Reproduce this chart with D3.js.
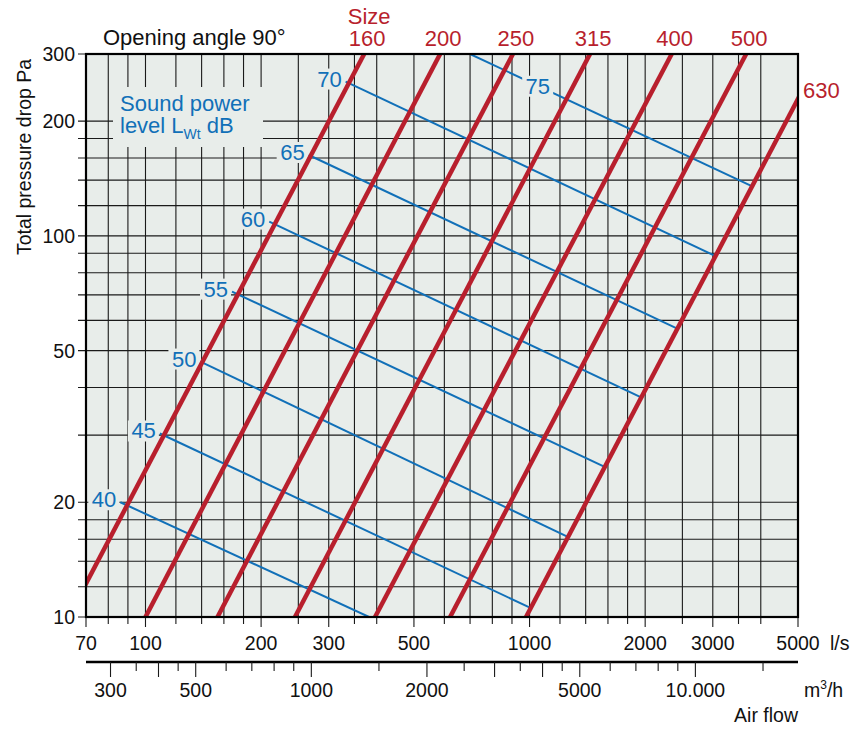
<!DOCTYPE html>
<html>
<head>
<meta charset="utf-8">
<script src="https://cdn.jsdelivr.net/npm/d3@7"></script>
<style>
  body { margin: 0; background: #fff; }
  svg { display: block; font-family: "Liberation Sans", Arial, Helvetica, sans-serif; }
</style>
</head>
<body>
<svg id="canvas" width="854" height="729"></svg>
<script>
// Damper sizes: air flow (l/s) at 10 Pa and at 300 Pa
const sizes = ["160", "200", "250", "315", "400", "500", "630"];
const flowAt10Pa = [63, 100, 154, 245, 396, 621, 979];
const flowAt300Pa = [371, 585, 905, 1437, 2345, 3664, 5760];

// Sound power level lines: start point and end point (flow l/s, pressure Pa)
const soundLevels = [40, 45, 50, 55, 60, 65, 70, 75];
const soundStartFlow = [86, 109, 139, 168, 210, 266, 332, 700];
const soundStartDp = [20, 30.3, 46.8, 71.4, 109, 163, 254, 300];
const soundEndFlow = [382, 999, 1262, 1564, 1940, 2417, 3042, 3790];
const soundEndDp = [10, 10.6, 16.2, 24.8, 37.8, 57.2, 88.6, 135];

// Axis ticks
const yGrid = [10, 12, 14, 16, 18, 20, 30, 40, 50, 60, 70, 80, 90, 100, 120, 140, 160, 180, 200, 300];
const yLabels = [10, 20, 50, 100, 200, 300];
const xGrid = [70, 80, 90, 100, 120, 140, 160, 180, 200, 250, 300, 350, 400, 500, 600, 700, 800, 900,
  1000, 1200, 1400, 1600, 1800, 2000, 2500, 3000, 3500, 4000, 5000];
const xLabels = [70, 100, 200, 300, 500, 1000, 2000, 3000, 5000];
const m3hTicks = [300, 350, 400, 450, 500, 600, 700, 800, 900, 1000, 1500, 2000, 2500, 3000, 3500,
  4000, 4500, 5000, 6000, 7000, 8000, 9000, 10000, 15000];
const m3hLong = [300, 400, 500, 1000, 2000, 3000, 4000, 5000, 10000];
const m3hLabels = [300, 500, 1000, 2000, 5000, 10000];

const red = "#b81f2d";
const blue = "#1170b8";
const panel = "#e8edea";

const svg = d3.select("#canvas");
const pLeft = 86, pRight = 798, pTop = 54, pBottom = 617;

const x = d3.scaleLog().domain([70, 5000]).range([pLeft, pRight]);
const y = d3.scaleLog().domain([10, 300]).range([pBottom, pTop]);
// second flow axis in m3/h (as printed, slightly shifted against l/s)
const xm = d3.scaleLog().domain([70 * 3.7, 5000 * 3.7]).range([pLeft, pRight]);

svg.append("defs").append("clipPath").attr("id", "plot")
  .append("rect").attr("x", pLeft).attr("y", pTop)
  .attr("width", pRight - pLeft).attr("height", pBottom - pTop);

// Panel
svg.append("rect")
  .attr("x", pLeft).attr("y", pTop)
  .attr("width", pRight - pLeft).attr("height", pBottom - pTop)
  .attr("fill", panel);

// Grid lines (vertical ones run down as ticks)
svg.append("g").selectAll("line").data(xGrid).join("line")
  .attr("x1", d => x(d)).attr("x2", d => x(d))
  .attr("y1", pTop).attr("y2", d => pBottom + (xLabels.includes(d) ? 10 : 7))
  .attr("stroke", "#1a1a1a").attr("stroke-width", 1.1);

svg.append("g").selectAll("line").data(yGrid).join("line")
  .attr("x1", pLeft - 8).attr("x2", pRight)
  .attr("y1", d => y(d)).attr("y2", d => y(d))
  .attr("stroke", "#1a1a1a").attr("stroke-width", 1.1);

// Legend box over the grid
svg.append("rect")
  .attr("x", 113).attr("y", 87).attr("width", 150).attr("height", 60)
  .attr("fill", panel);

const legend = svg.append("text")
  .attr("fill", blue).attr("font-size", 22);
legend.append("tspan").attr("x", 120).attr("y", 111).text("Sound power");
legend.append("tspan").attr("x", 120).attr("y", 133).text("level L");
legend.append("tspan").attr("font-size", 14).attr("dy", 6).text("Wt");
legend.append("tspan").attr("dy", -6).text(" dB");

// Sound power lines
const sound = soundLevels.map((v, i) => ({
  level: v,
  x1: x(soundStartFlow[i]), y1: y(soundStartDp[i]),
  x2: x(soundEndFlow[i]), y2: y(soundEndDp[i])
}));

svg.append("g").attr("clip-path", "url(#plot)")
  .selectAll("line").data(sound).join("line")
  .attr("x1", d => d.x1).attr("y1", d => d.y1)
  .attr("x2", d => d.x2).attr("y2", d => d.y2)
  .attr("stroke", blue).attr("stroke-width", 2);

// Sound labels, with a panel coloured patch under them
const soundLabels = svg.append("g");
sound.forEach(d => {
  let lx, ly, anchor;
  if (d.level === 75) {
    // label sits on the line itself
    const t = (x(1050) - d.x1) / (d.x2 - d.x1);
    lx = x(1050); ly = d.y1 + t * (d.y2 - d.y1) + 8; anchor = "middle";
  } else {
    lx = d.x1 - 4; ly = d.y1 + 5; anchor = "end";
  }
  const w = 27;
  const bx = anchor === "end" ? lx - w - 1 : lx - w / 2 - 2;
  soundLabels.append("rect")
    .attr("x", bx).attr("y", ly - 18).attr("width", w + 4).attr("height", 21)
    .attr("fill", panel);
  soundLabels.append("text")
    .attr("x", lx).attr("y", ly)
    .attr("text-anchor", anchor)
    .attr("font-size", 22).attr("fill", blue)
    .text(d.level);
});

// Size lines
const sizeLines = sizes.map((s, i) => ({
  size: s,
  x1: x(flowAt10Pa[i]), y1: y(10),
  x2: x(flowAt300Pa[i]), y2: y(300)
}));

svg.append("g").attr("clip-path", "url(#plot)")
  .selectAll("line").data(sizeLines).join("line")
  .attr("x1", d => d.x1).attr("y1", d => d.y1)
  .attr("x2", d => d.x2).attr("y2", d => d.y2)
  .attr("stroke", red).attr("stroke-width", 4.5);

// Size labels above the frame, 630 at right side
svg.append("text")
  .attr("x", x(flowAt300Pa[0]) + 5).attr("y", 24)
  .attr("text-anchor", "middle").attr("font-size", 22).attr("fill", red)
  .text("Size");

sizeLines.forEach((d, i) => {
  if (i < sizes.length - 1) {
    svg.append("text")
      .attr("x", d.x2 + 3).attr("y", 46)
      .attr("text-anchor", "middle").attr("font-size", 22).attr("fill", red)
      .text(d.size);
  } else {
    svg.append("text")
      .attr("x", pRight + 5).attr("y", 98)
      .attr("font-size", 22).attr("fill", red)
      .text(d.size);
  }
});

// Frame
svg.append("rect")
  .attr("x", pLeft).attr("y", pTop)
  .attr("width", pRight - pLeft).attr("height", pBottom - pTop)
  .attr("fill", "none").attr("stroke", "#000").attr("stroke-width", 2.2);

// Title
svg.append("text")
  .attr("x", 103).attr("y", 45)
  .attr("font-size", 22).attr("fill", "#111")
  .text("Opening angle 90°");

// Y axis labels
svg.append("g").selectAll("text").data(yLabels).join("text")
  .attr("x", 75).attr("y", d => y(d) + 7)
  .attr("text-anchor", "end").attr("font-size", 19.5).attr("fill", "#111")
  .text(d => d);

svg.append("text")
  .attr("transform", "translate(31, 157) rotate(-90)")
  .attr("text-anchor", "middle").attr("font-size", 19.5).attr("fill", "#111")
  .text("Total pressure drop Pa");

// X axis labels, l/s
svg.append("g").selectAll("text").data(xLabels).join("text")
  .attr("x", d => x(d)).attr("y", 650)
  .attr("text-anchor", "middle").attr("font-size", 19.5).attr("fill", "#111")
  .text(d => d);

svg.append("text")
  .attr("x", 830).attr("y", 650)
  .attr("font-size", 19.5).attr("fill", "#111")
  .text("l/s");

// Second axis, m3/h
svg.append("line")
  .attr("x1", pLeft).attr("x2", pRight).attr("y1", 662).attr("y2", 662)
  .attr("stroke", "#000").attr("stroke-width", 2.5);

svg.append("g").selectAll("line").data(m3hTicks).join("line")
  .attr("x1", d => xm(d)).attr("x2", d => xm(d))
  .attr("y1", 662).attr("y2", d => m3hLong.includes(d) ? 677 : 671)
  .attr("stroke", "#1a1a1a").attr("stroke-width", 1.1);

svg.append("g").selectAll("text").data(m3hLabels).join("text")
  .attr("x", d => xm(d)).attr("y", 697)
  .attr("text-anchor", "middle").attr("font-size", 19.5).attr("fill", "#111")
  .text(d => d >= 10000 ? d3.format(",")(d).replace(",", ".") : d);

const unit = svg.append("text")
  .attr("x", 804).attr("y", 697)
  .attr("font-size", 19.5).attr("fill", "#111");
unit.append("tspan").text("m");
unit.append("tspan").attr("font-size", 12).attr("dy", -8).text("3");
unit.append("tspan").attr("dy", 8).text("/h");

svg.append("text")
  .attr("x", pRight).attr("y", 722)
  .attr("text-anchor", "end").attr("font-size", 19.5).attr("fill", "#111")
  .text("Air flow");
</script>
</body>
</html>
